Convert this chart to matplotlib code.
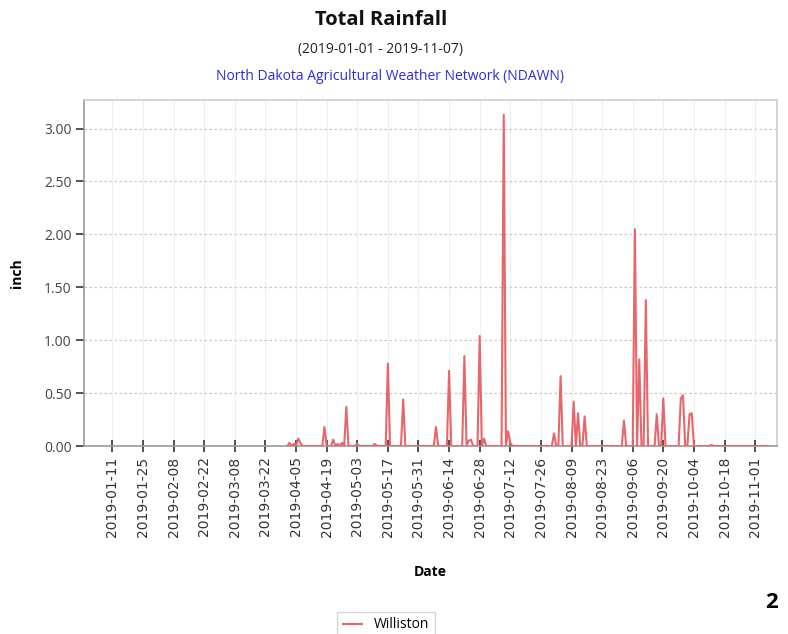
import numpy as np
import pandas as pd
import matplotlib
matplotlib.use("Agg")
import matplotlib.pyplot as plt
import matplotlib.dates as mdates

plt.rcParams['font.family'] = ['Open Sans', 'DejaVu Sans']

# rain days (inch), all other days are 0
rain_dates = ['2019-04-02', '2019-04-04', '2019-04-06', '2019-04-07', '2019-04-18',
              '2019-04-22', '2019-04-24', '2019-04-26', '2019-04-28', '2019-05-03',
              '2019-05-11', '2019-05-17', '2019-05-24', '2019-06-08', '2019-06-14',
              '2019-06-21', '2019-06-23', '2019-06-24', '2019-06-28', '2019-06-30',
              '2019-07-09', '2019-07-11', '2019-07-12', '2019-08-01', '2019-08-04',
              '2019-08-10', '2019-08-12', '2019-08-15', '2019-09-02', '2019-09-07',
              '2019-09-09', '2019-09-12', '2019-09-17', '2019-09-20', '2019-09-28',
              '2019-09-29', '2019-10-02', '2019-10-03', '2019-10-12']
rain_values = [0.03, 0.02, 0.07, 0.03, 0.18,
               0.06, 0.02, 0.03, 0.37, 0.02,
               0.02, 0.78, 0.44, 0.18, 0.71,
               0.85, 0.05, 0.06, 1.04, 0.07,
               3.13, 0.14, 0.03, 0.12, 0.66,
               0.42, 0.31, 0.28, 0.24, 2.05,
               0.82, 1.38, 0.30, 0.45, 0.45,
               0.48, 0.30, 0.31, 0.01]
record_start = '2019-04-01'
record_end = '2019-11-07'

tick_labels = ['2019-01-11', '2019-01-25', '2019-02-08', '2019-02-22', '2019-03-08',
               '2019-03-22', '2019-04-05', '2019-04-19', '2019-05-03', '2019-05-17',
               '2019-05-31', '2019-06-14', '2019-06-28', '2019-07-12', '2019-07-26',
               '2019-08-09', '2019-08-23', '2019-09-06', '2019-09-20', '2019-10-04',
               '2019-10-18', '2019-11-01']
y_ticks = [0.0, 0.5, 1.0, 1.5, 2.0, 2.5, 3.0]

days = pd.date_range(record_start, record_end, freq='D')
rain = pd.Series(rain_values, index=pd.to_datetime(rain_dates)).reindex(days, fill_value=0.0)

fig = plt.figure(figsize=(7.88, 6.34), dpi=100)
ax = fig.add_axes([84 / 788, 188 / 634, 693 / 788, 346 / 634])

ax.plot(rain.index, rain.values, color='#e8666b', lw=1.5, label='Williston', zorder=3)

ax.set_xlim(pd.Timestamp('2018-12-29'), pd.Timestamp('2019-11-11'))
ax.set_ylim(0, 3.27)

ax.set_xticks(pd.to_datetime(tick_labels))
ax.xaxis.set_major_formatter(mdates.DateFormatter('%Y-%m-%d'))
ax.set_yticks(y_ticks)
ax.set_yticklabels([f'{v:.2f}' for v in y_ticks])
plt.setp(ax.get_xticklabels(), rotation=90, fontsize=10, color='#333333',
         family=['DejaVu Sans'])
plt.setp(ax.get_yticklabels(), fontsize=10, color='#444444')
ax.tick_params(axis='x', direction='inout', length=9, width=1.2, color='#333333', pad=3)
ax.tick_params(axis='y', direction='out', length=6, width=1.2, color='#333333', pad=3)

ax.grid(axis='y', color='#c8c8c8', ls=(0, (2, 2)), lw=0.9)
ax.grid(axis='x', color='#eeeeee', ls='-', lw=0.8)
ax.set_axisbelow(True)

for side in ['top', 'right']:
    ax.spines[side].set_color('#cccccc')
for side in ['left', 'bottom']:
    ax.spines[side].set_color('#999999')
for s in ax.spines.values():
    s.set_linewidth(1.2)

ax.set_ylabel('inch', fontsize=10, fontweight='bold')
ax.yaxis.set_label_coords(-60 / 693, 0.5)
fig.text(430 / 788, 1 - 572 / 634, 'Date', ha='center', va='center',
         fontsize=10, fontweight='bold')

fig.text(381 / 788, 1 - 20 / 634, 'Total Rainfall', ha='center', va='center',
         fontsize=14.5, fontweight='bold', color='#111111')
fig.text(381 / 788, 1 - 50 / 634, '(2019-01-01 - 2019-11-07)', ha='center',
         va='center', fontsize=10, color='#222222')
fig.text(390 / 788, 1 - 77 / 634, 'North Dakota Agricultural Weather Network (NDAWN)',
         ha='center', va='center', fontsize=10, color='#2b2bd9')

leg = fig.legend(loc='upper center', bbox_to_anchor=(386 / 788, 1 - 605 / 634),
                 fontsize=10, frameon=True, fancybox=False, handlelength=1.4,
                 borderpad=0.4)
leg.get_frame().set_edgecolor('#cccccc')
leg.get_frame().set_linewidth(1.0)

fig.text(772 / 788, 1 - 603 / 634, '2', ha='center', va='center',
         fontsize=16, fontweight='bold')

fig.savefig('out.png', dpi=100)
